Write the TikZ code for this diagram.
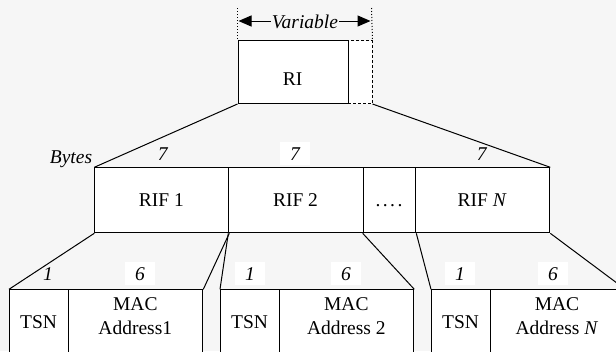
\documentclass[tikz,border=0pt]{standalone}
\usepackage{fontspec}
\setmainfont{Liberation Serif}
\newfontfamily\tms{Liberation Serif}
\usetikzlibrary{arrows.meta}
\definecolor{bg}{RGB}{246,246,246}
\begin{document}
\begin{tikzpicture}[x=1pt,y=-1pt,
  every node/.style={font=\tms\fontsize{19.5}{24}\selectfont},
  box/.style={draw, fill=white, line width=1pt, inner sep=0pt, anchor=north west, minimum height=#1},
  box/.default=65,
  dbox/.style={box=63, dashed, dash pattern=on 3pt off 2pt},
  txt/.style={anchor=base, inner sep=0pt},
  num/.style={anchor=base, inner sep=0pt, font=\tms\fontsize{19.5}{24}\selectfont\itshape},
  wnum/.style={num, fill=white, inner xsep=10pt, inner ysep=5pt},
  conn/.style={line width=1pt},
  tip/.style={Triangle[length=13pt,width=11pt]}]
\useasboundingbox (0,0) rectangle (616,351);
\clip (0,0) rectangle (616,351);
\fill[bg] (0,0) rectangle (616,351);

% RI box
\node[dbox, minimum width=24] (rix) at (347.5,40) {};
\node[box=63, minimum width=110] (ri) at (237.5,40) {};
\node[txt] (ritxt) at (292.5,85) {RI};
\coordinate (vl0) at (237.5,8);
\coordinate (vr0) at (371.5,8);
\draw[line width=1pt, dotted] (vl0) -- (ri.north west);
\draw[line width=1pt, dotted] (vr0) -- (rix.north east);
\coordinate (al) at (238.5,21);
\coordinate (ar) at (370.5,21);
\draw[line width=1pt, {Triangle[length=13pt,width=11pt]}-{Triangle[length=13pt,width=11pt]}] (al) -- (ar);
\node[txt, fill=bg, inner xsep=1pt, inner ysep=2pt, font=\tms\fontsize{19.5}{24}\selectfont\itshape] (var) at (305,28.3) {Variable};

% RIF row
\node[box, minimum width=134] (rif1) at (94.3,167.3) {};
\node[box, minimum width=134.4] (rif2) at (228.3,167.3) {};
\node[box, minimum width=52.6] (rifd) at (362.7,167.3) {};
\node[box, minimum width=134] (rifn) at (415.3,167.3) {};
\node[txt] (t1) at (161.3,206.5) {RIF 1};
\node[txt] (t2) at (295.5,206.5) {RIF 2};
\node[txt] (td) at (389,206.5) {.\kern2.5pt.\kern2.5pt.\kern2.5pt.};
\node[txt] (tn) at (482.3,206.5) {RIF \textit{N}};

\draw[conn] (ri.south west) -- (rif1.north west);
\draw[conn] (rix.south east) -- (rifn.north east);

\node[txt, font=\tms\fontsize{19.5}{24}\selectfont\itshape] (bytes) at (71,163.3) {Bytes};
\node[num] (s1) at (162.7,160) {7};
\node[wnum] (s2) at (295,160) {7};
\node[num] (s3) at (481.7,160.5) {7};

% bottom row
\node[box=64.8, minimum width=59.3] (tsn1) at (9,289.3) {};
\node[box=64.8, minimum width=134] (mac1) at (68.3,289.3) {};
\node[box=64.8, minimum width=59.3] (tsn2) at (220,289.3) {};
\node[box=64.8, minimum width=134] (mac2) at (279.3,289.3) {};
\node[box=64.8, minimum width=59] (tsn3) at (431,289.3) {};
\node[box=64.8, minimum width=134.3] (mac3) at (490,289.3) {};

\draw[conn] (rif1.south west) -- (tsn1.north west);
\draw[conn] (rif1.south east) -- (mac1.north east);
\draw[conn] (rif2.south west) -- (tsn2.north west);
\draw[conn] (rifd.south west) -- (mac2.north east);
\draw[conn] (rifd.south east) -- (tsn3.north west);
\draw[conn] (rifn.south east) -- (mac3.north east);

\node[txt] (tt1) at (38.6,328.3) {TSN};
\node[txt] (tt2) at (249.6,328.3) {TSN};
\node[txt] (tt3) at (460.5,328.3) {TSN};
\node[txt, align=center, anchor=north] (m1) at (135.3,297) {MAC\\Address1};
\node[txt, align=center, anchor=north] (m2) at (346.3,297) {MAC\\Address 2};
\node[txt, align=center, anchor=north] (m3) at (557,297) {MAC\\Address \textit{N}};

\node[num] (b1) at (48,280) {1};
\node[wnum] (b2) at (140,280) {6};
\node[wnum] (b3) at (250,280) {1};
\node[wnum] (b4) at (346,280) {6};
\node[wnum] (b5) at (460,280) {1};
\node[wnum] (b6) at (553,280) {6};
\end{tikzpicture}
\end{document}
